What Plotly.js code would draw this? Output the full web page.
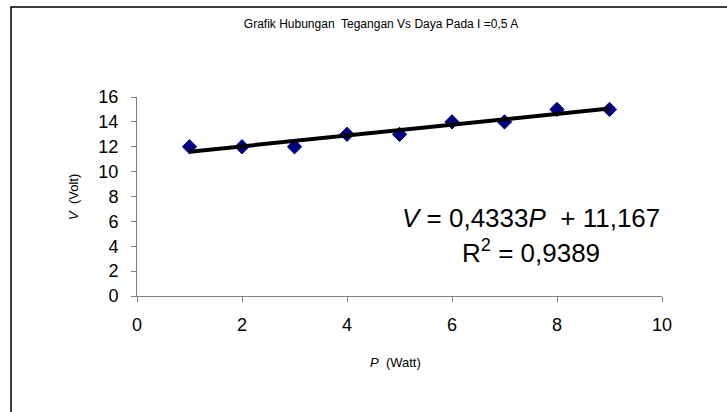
<!DOCTYPE html>
<html>
<head>
<meta charset="utf-8">
<script src="https://cdn.plot.ly/plotly-3.0.1.min.js"></script>
<style>html,body{margin:0;padding:0;background:#fff;}#chart{width:727px;height:412px;}</style>
</head>
<body>
<div id="chart"></div>
<script>
// Data
const powerWatt = [1, 2, 3, 4, 5, 6, 7, 8, 9];
const voltage = [12, 12, 12, 13, 13, 14, 14, 15, 15];
const xTickVals = [0, 2, 4, 6, 8, 10];
const yTickVals = [0, 2, 4, 6, 8, 10, 12, 14, 16];
const chartTitle = 'Grafik Hubungan  Tegangan Vs Daya Pada I =0,5 A';

// Linear regression (Excel trendline)
const n = powerWatt.length;
const mx = powerWatt.reduce((a, b) => a + b, 0) / n;
const my = voltage.reduce((a, b) => a + b, 0) / n;
let sxy = 0, sxx = 0, syy = 0;
for (let i = 0; i < n; i++) {
  sxy += (powerWatt[i] - mx) * (voltage[i] - my);
  sxx += (powerWatt[i] - mx) ** 2;
  syy += (voltage[i] - my) ** 2;
}
const slope = sxy / sxx;
const intercept = my - slope * mx;
const r2 = (sxy * sxy) / (sxx * syy);
const xFit = [Math.min(...powerWatt), Math.max(...powerWatt)];
const yFit = xFit.map(x => slope * x + intercept);
const fmt = (v, d) => v.toFixed(d).replace('.', ',');

const W = 727, H = 412;
const L = 137, R = 662, T = 97, B = 296;
const px = x => (x - L) / (R - L);
const py = y => (B - y) / (B - T);

const font = 'Liberation Sans, Arial, sans-serif';

const traces = [
  {
    x: powerWatt, y: voltage, type: 'scatter', mode: 'markers',
    marker: {symbol: 'diamond', size: 11, color: '#000080', line: {color: '#000080', width: 1}},
    hoverinfo: 'x+y', showlegend: false
  },
  {
    x: xFit, y: yFit, type: 'scatter', mode: 'lines',
    line: {color: '#000000', width: 4}, hoverinfo: 'skip', showlegend: false
  }
];

const layout = {
  width: W, height: H,
  paper_bgcolor: '#ffffff', plot_bgcolor: '#ffffff',
  margin: {l: L, r: W - R, t: T, b: H - B, pad: 0},
  font: {family: font, color: '#000000'},
  title: {
    text: chartTitle, font: {size: 12, family: font, color: '#000000'},
    x: 381 / W, xref: 'container', xanchor: 'center',
    y: 1 - 24 / H, yref: 'container', yanchor: 'middle'
  },
  xaxis: {
    range: [0, 10], tickvals: xTickVals, ticktext: xTickVals.map(String),
    showgrid: false, zeroline: false, showline: true, linecolor: '#808080', linewidth: 1,
    ticks: 'outside', ticklen: 5, tickcolor: '#808080', tickwidth: 1, ticklabelstandoff: 7,
    tickfont: {size: 18, family: font, color: '#000000'}, fixedrange: true
  },
  yaxis: {
    range: [0, 16], tickvals: yTickVals, ticktext: yTickVals.map(String),
    showgrid: false, zeroline: false, showline: true, linecolor: '#808080', linewidth: 1,
    ticks: 'outside', ticklen: 5, tickcolor: '#808080', tickwidth: 1, ticklabelstandoff: 9,
    tickfont: {size: 18, family: font, color: '#000000'}, fixedrange: true
  },
  shapes: [
    {type: 'rect', xref: 'paper', yref: 'paper',
     x0: px(11), x1: px(740), y0: py(430), y1: py(7),
     line: {color: '#000000', width: 1.5}, fillcolor: 'rgba(0,0,0,0)', layer: 'below'}
  ],
  annotations: [
    {text: '<i>P</i>  (Watt)', xref: 'paper', yref: 'paper', x: px(395), y: py(362),
     xanchor: 'center', yanchor: 'middle', showarrow: false, font: {size: 13, family: font}},
    {text: '<i>V</i>  (Volt)', xref: 'paper', yref: 'paper', x: px(73), y: py(197),
     xanchor: 'center', yanchor: 'middle', showarrow: false, textangle: -90, font: {size: 13, family: font}},
    {text: '<i>V</i> = ' + fmt(slope, 4) + '<i>P</i>  + ' + fmt(intercept, 3),
     xref: 'paper', yref: 'paper', x: px(531), y: py(218),
     xanchor: 'center', yanchor: 'middle', showarrow: false, font: {size: 26, family: font}},
    {text: 'R<sup>2</sup> = ' + fmt(r2, 4),
     xref: 'paper', yref: 'paper', x: px(531), y: py(251),
     xanchor: 'center', yanchor: 'middle', showarrow: false, font: {size: 26, family: font}}
  ]
};

Plotly.newPlot('chart', traces, layout, {displayModeBar: false, staticPlot: true});
</script>
</body>
</html>
